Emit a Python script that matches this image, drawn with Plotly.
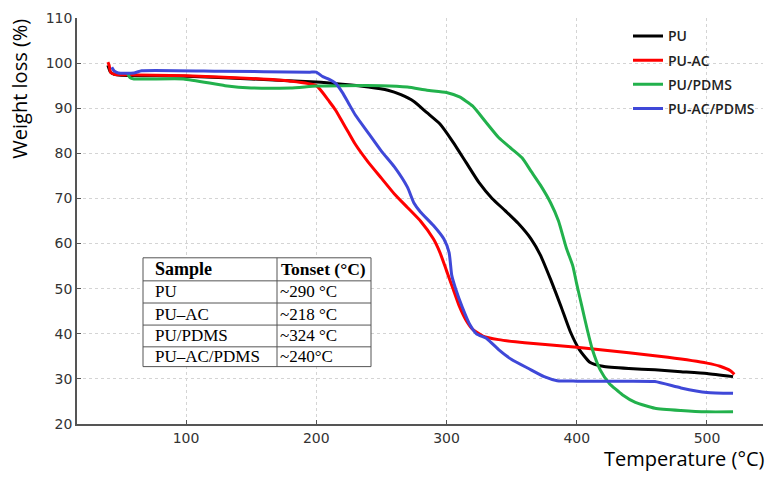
import plotly.graph_objects as go

# ---------------- data ----------------
pu_T = [40, 42, 45, 50, 100, 150, 200, 220, 240, 255, 265, 275, 285, 295, 305, 315, 325, 335,
        345, 355, 365, 372, 380, 388, 395, 402, 410, 420, 440, 460, 480, 500, 520]
pu_W = [99.5, 98.0, 97.5, 97.3, 97.1, 96.5, 95.8, 95.3, 94.7, 94.0, 93.0, 91.5, 89.0, 86.5, 82.5,
        78.0, 73.5, 70.0, 67.3, 64.5, 61.0, 57.5, 52.0, 46.0, 40.5, 36.5, 33.7, 32.8, 32.3, 32.0,
        31.6, 31.2, 30.5]

puac_T = [40, 41, 42, 45, 50, 100, 150, 180, 200, 210, 215, 220, 225, 230, 240, 250, 260, 270,
          280, 290, 295, 300, 305, 310, 315, 320, 328, 340, 360, 400, 440, 470, 500, 510, 518, 521]
puac_W = [100.2, 99.5, 98.0, 97.5, 97.4, 97.2, 96.6, 96.0, 95.0, 91.5, 89.5, 87.0, 84.5, 82.0,
          78.0, 74.5, 71.0, 68.0, 65.0, 61.0, 58.0, 54.0, 50.0, 46.0, 43.0, 41.0, 39.5, 38.7,
          38.0, 37.0, 35.8, 34.8, 33.5, 32.8, 31.8, 31.0]

pupdms_T = [55, 57, 60, 98, 130, 150, 180, 200, 220, 250, 270, 285, 300, 310, 320, 330, 340, 350,
            358, 365, 372, 380, 386, 392, 397, 400, 404, 408, 412, 418, 425, 435, 445, 460, 480,
            500, 520]
pupdms_W = [97.8, 96.8, 96.5, 96.5, 95.0, 94.5, 94.5, 94.9, 95.0, 95.0, 94.7, 94.0, 93.5, 92.5,
            90.5, 87.0, 83.5, 81.0, 79.0, 76.0, 73.0, 69.0, 65.0, 59.0, 55.0, 51.0, 46.0, 41.0,
            36.5, 32.0, 29.0, 26.5, 24.8, 23.5, 23.0, 22.7, 22.7]

puacpdms_T = [43, 45, 48, 60, 66, 126, 195, 200, 205, 210, 215, 220, 225, 230, 240, 250, 260, 270,
              275, 280, 290, 298, 302, 304, 307, 312, 318, 323, 331, 340, 350, 363, 375, 385, 400,
              440, 460, 480, 500, 520]
puacpdms_W = [99.1, 98.2, 97.8, 97.8, 98.3, 98.2, 98.0, 98.0, 97.0, 96.4, 95.5, 93.5, 91.0, 88.5,
              84.5, 80.5, 77.0, 72.5, 69.0, 67.0, 64.0, 61.0, 58.0, 53.0, 50.0, 46.0, 42.0, 40.0,
              38.9, 36.5, 34.3, 32.3, 30.5, 29.6, 29.5, 29.5, 29.4, 28.0, 27.0, 26.8]

series_names = ["PU", "PU-AC", "PU/PDMS", "PU-AC/PDMS"]
series_colors = ["#000000", "#ff0000", "#22b14c", "#3f48d8"]

table_samples = ["PU", "PU–AC", "PU/PDMS", "PU–AC/PDMS"]
table_tonset = ["~290 °C", "~218 °C", "~324 °C", "~240°C"]

x_ticks = [100, 200, 300, 400, 500]
y_ticks = [20, 30, 40, 50, 60, 70, 80, 90, 100, 110]

# ---------------- layout geometry (pixels) ----------------
W, H = 773, 477
L, R, T, B = 77, 763, 13.6, 424


def px(x):
    return (x - L) / (R - L)


def py(y):
    return (B - y) / (B - T)


fig = go.Figure()
for xs, ys, name, col in zip([pu_T, puac_T, pupdms_T, puacpdms_T],
                             [pu_W, puac_W, pupdms_W, puacpdms_W],
                             series_names, series_colors):
    fig.add_trace(go.Scatter(x=xs, y=ys, mode="lines", name=name, legendgroup=name,
                             line=dict(color=col, width=3, shape="spline", smoothing=0.5)))

axis_common = dict(showline=True, linecolor="#555555", linewidth=1.5, mirror=False,
                   ticks="inside", ticklen=4, tickcolor="#555555", zeroline=False,
                   showgrid=True, gridcolor="#d4d4d4", griddash="dot", gridwidth=1,
                   tickfont=dict(family="DejaVu Sans", size=14, color="#333333"))

fig.update_xaxes(range=[16.3, 543], tickvals=x_ticks, **axis_common)
fig.update_yaxes(range=[20, 110], tickvals=y_ticks, **axis_common)

fig.update_layout(
    width=W, height=H,
    margin=dict(l=L, r=W - R, t=T, b=H - B, pad=0),
    plot_bgcolor="white", paper_bgcolor="white",
    showlegend=True,
    legend=dict(x=px(628), y=py(16), xanchor="left", yanchor="top",
                bgcolor="rgba(0,0,0,0)", tracegroupgap=3,
                font=dict(family="Open Sans", size=14, color="#222222", weight=600)),
)

# axis titles
fig.add_annotation(text="Weight loss (%)", x=px(20), y=py(85), xref="paper", yref="paper",
                   textangle=-90, showarrow=False, xanchor="center", yanchor="middle",
                   font=dict(family="Open Sans", size=20, color="#000000"))
fig.add_annotation(text="Temperature (°C)", x=px(767), y=py(459), xref="paper", yref="paper",
                   showarrow=False, xanchor="right", yanchor="middle",
                   font=dict(family="Open Sans", size=20, color="#000000"))

# table
tl, tr, tc = 143, 371, 277
rows = [256, 279.3, 301.7, 324, 346, 366]
fig.add_shape(type="rect", xref="paper", yref="paper", x0=px(tl), x1=px(tr), y0=py(rows[-1]),
              y1=py(rows[0]), fillcolor="white", line=dict(color="#555555", width=1))
fig.add_shape(type="line", xref="paper", yref="paper", x0=px(tc), x1=px(tc), y0=py(rows[-1]),
              y1=py(rows[0]), line=dict(color="#555555", width=1))
for yy in rows[1:-1]:
    fig.add_shape(type="line", xref="paper", yref="paper", x0=px(tl), x1=px(tr), y0=py(yy),
                  y1=py(yy), line=dict(color="#555555", width=1))

header = ["Sample", "Tonset (°C)"]
hy = (rows[0] + rows[1]) / 2
fig.add_annotation(text="<b>%s</b>" % header[0], x=px(tl + 10), y=py(hy), xref="paper", yref="paper",
                   showarrow=False, xanchor="left", yanchor="middle",
                   font=dict(family="Liberation Serif", size=18, color="#000000"))
fig.add_annotation(text="<b>%s</b>" % header[1], x=px(tc + 2), y=py(hy), xref="paper", yref="paper",
                   showarrow=False, xanchor="left", yanchor="middle",
                   font=dict(family="Liberation Serif", size=17.5, color="#000000"))
for i, (s, t) in enumerate(zip(table_samples, table_tonset)):
    cy = (rows[i + 1] + rows[i + 2]) / 2
    fig.add_annotation(text=s, x=px(tl + 10), y=py(cy), xref="paper", yref="paper",
                       showarrow=False, xanchor="left", yanchor="middle",
                       font=dict(family="Liberation Serif", size=17, color="#000000"))
    fig.add_annotation(text=t, x=px(tc + 1), y=py(cy), xref="paper", yref="paper",
                       showarrow=False, xanchor="left", yanchor="middle",
                       font=dict(family="Liberation Serif", size=17, color="#000000"))

fig.write_html("out.html")
